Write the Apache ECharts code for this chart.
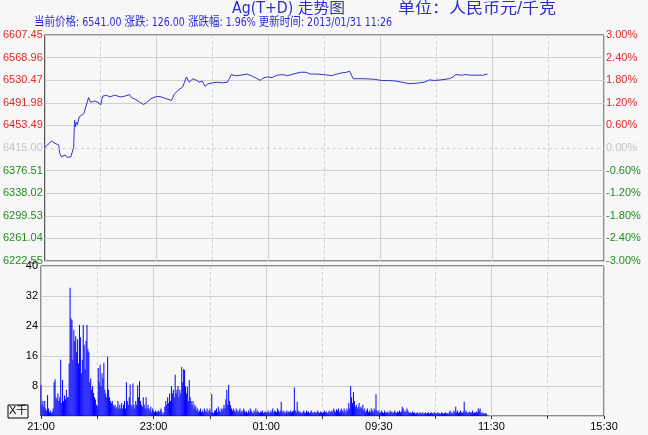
<!DOCTYPE html>
<html><head><meta charset="utf-8">
<script src="https://cdn.jsdelivr.net/npm/echarts@6/dist/echarts.min.js"></script>
<style>html,body{margin:0;padding:0;background:#f7f7f7}#c{width:648px;height:435px}</style>
</head><body><div id="c"></div>
<script>
const prevClose = 6415;
const pctLevels = [-3, -2.4, -1.8, -1.2, -0.6, 0, 0.6, 1.2, 1.8, 2.4, 3];
const timeLabels = ['21:00', '23:00', '01:00', '09:30', '11:30', '15:30'];
const titleText = 'Ag(T+D) 走势图';
const unitText = '单位：人民币元/千克';
const infoText = '当前价格: 6541.00 涨跌: 126.00 涨跌幅: 1.96% 更新时间: 2013/01/31 11:26';
const volumeLabel = 'X千';

const priceTimes = [0,3,7,9,11,15,16,18,20,22,
24,26,28,30,31,32,33,34,35,37,
39,42,44,47,49,51,54,58,60,62,
66,70,75,81,85,91,93,97,102,106,
109,114,120,125,130,136,139,143,148,152,
155,159,163,166,169,172,175,180,185,191,
196,198,200,205,210,217,223,228,231,234,
239,244,249,256,260,267,274,280,285,292,
299,304,308,311,313,319,324,327,329,331,
333,336,343,354,361,369,377,383,391,400,
407,413,418,425,434,438,441,447,452,457,
464,470,475];
const priceValues = [6416,6420,6427,6425,6423,6420,6406,6400,6398,6403,
6399,6401,6400,6401,6416,6462,6451,6459,6455,6468,
6465,6474,6476,6501,6493,6491,6495,6492,6488,6503,
6505,6502,6505,6502,6503,6506,6501,6498,6493,6489,
6492,6499,6503,6502,6499,6496,6507,6513,6519,6536,
6527,6533,6530,6527,6529,6520,6524,6526,6527,6526,
6527,6533,6540,6538,6539,6541,6537,6533,6530,6534,
6536,6535,6539,6540,6538,6541,6544,6544,6541,6541,
6540,6539,6538,6540,6541,6543,6544,6546,6547,6533,
6530,6533,6533,6532,6530,6530,6529,6527,6524.5,6525.5,
6527,6531,6530,6531,6533,6536,6540,6539,6540,6539,
6539,6539,6541];

const volumes = [
8.3,3,4,2.5,4,2,1.5,5.6,2,1,
1.5,0.8,1.2,2,9,9.8,5,4.5,6,4,
5,15,3.5,9.6,4,5.5,4.5,7,5,5,
14,34.2,26,25.6,15,23,20,21.3,17,20.5,
14,24.3,21,11.4,15,24.3,19,12.4,20,24.3,
17.8,17,9,10,7,8,6.2,5,4.4,3,
2.6,12.8,9,13.7,8,11.4,10,14.2,7,6,
5,15.8,7,5,4,3.5,4,3,2.5,3,
2,2.5,4,2,3,2,3.5,2,3,4,
2,9,4,3,5,8.4,3,2.5,8.7,3,
2,4,3,8.2,5,9.3,4,3,2.5,5,
3,2,5,2,3,2,1.5,2.5,1,2,
1.5,1,1.5,1,1.2,1.5,1,1.5,2,1,
0.5,1,2.5,4,3,5,3.5,6,4,8,
6,7,5,11,6,7,8,5,7,6,
13.1,9,12.5,12.3,8,6,7.8,4,9.6,5,
4,3,4,2,3,2.5,1.5,2,1,1.5,
2,1,1.5,1,2,1.5,1,2,1,1.5,
2,1,5.9,1,0.8,1.5,1.5,2,1,2.5,
1.5,1,2,1.5,2,3,2,4.5,7,3,
8.3,4,2.9,2,1.5,2,1.5,1,2,1.5,
1,1.5,2,1,1.5,1,2,1.5,1,1.2,
0.8,1.5,1,2,1.5,1,0.8,1.5,1,2,
1,1.5,1,0.8,1.2,1,1.5,0.8,1,1.2,
0.8,1,1.5,1,0.8,1.5,1,2,1,1.5,
1.2,1,2,1.5,1,1.5,3.8,1,1.5,1,
1.2,0.8,1.5,1,1.2,1,1.5,1,1.2,1.5,
7.6,1.5,1,3.8,1.5,1,1.2,1,0.8,1,
1.5,1,0.8,1.5,1,1.2,0.8,1,1.5,1,
0.8,1,1.2,0.8,1,1.5,1,0.8,1.2,1,
0.8,1,1.5,1,1.2,0.8,1,1.5,1,1.2,
1.5,1,2,1.5,1,1.8,1.5,2,1,1.5,
2,1.5,1,2,1.5,1,2,1.5,3.4,2,
8,5,3.5,6.4,4,2.5,3,2,2.5,3.5,
2,2.5,2,3,1.5,2,1,1.5,2,1,
1.5,1,2,1.5,1,2,1.5,5.8,1.5,1,
1.5,0.8,1,1.5,1,0.8,1.5,1,0.8,1.2,
1,0.8,1.5,1,1.2,0.8,1,1.5,1,0.8,
1.2,1,1.5,1,1.2,2.5,2,1,1.5,1,
2,1.5,1,0.8,1,0.8,1.2,0.8,1,0.6,
0.8,1,0.6,0.8,1,0.6,0.8,1,0.6,0.8,
1,0.6,0.8,1,0.6,0.8,1,0.8,0.6,1,
0.8,0.6,0.8,1,0.6,0.8,0.6,1,0.8,0.6,
0.8,1,0.6,0.8,0.6,1,1.5,0.8,1,0.6,
1.5,1,2.5,1,1.5,0.8,1,1.5,1,0.8,
1.2,3.8,1,1.5,1,0.8,1,1.2,0.8,1,
1.5,0.8,1,0.8,1.2,1,2,1.5,2,0.8,
1,0.6,0.8,0.6,0.8,0.5];

const RED = '#e02828', GREEN = '#228b22', GRAY = '#c4c4c4';
const GRID = '#cfcfcf';
const FONT = 'Arial, "Liberation Sans", "Noto Sans CJK SC", sans-serif';
const NARROW = '"Liberation Sans Narrow", "DejaVu Sans Condensed", Arial, "Noto Sans CJK SC", sans-serif';
const TEXTBLUE = '#2b2bd0';
const sessionLen = 600;

const priceData = priceTimes.map((t, i) => [t, priceValues[i]]);
const volData = volumes.map((v, i) => [i, v]);
const priceLevels = pctLevels.map(p => +(prevClose * (1 + p / 100)).toFixed(2));
const colorFor = v => Math.abs(v) < 1e-9 ? GRAY : (v > 0 ? RED : GREEN);
const splitColors = pctLevels.map(p => p === 0 ? 'rgba(0,0,0,0)' : GRID);

function fitText(text, font, left, top, targetW, color) {
  const w = echarts.format.getTextRect ? echarts.format.getTextRect(text, font).width : targetW;
  const sx = w > 0 ? targetW / w : 1;
  return {type: 'text', x: left, y: top, scaleX: sx, style: {text: text, fill: color, font: font}};
}

const chart = echarts.init(document.getElementById('c'));
const baseX = {
  type: 'value', min: 0, max: sessionLen, interval: 60,
  axisLine: {show: false}, axisTick: {show: false}, axisLabel: {show: false},
  splitLine: {show: true, lineStyle: {color: GRID, type: [3, 3], width: 1}}
};
const solidX = {
  type: 'value', min: 0, max: sessionLen, interval: 120, position: 'top',
  axisLine: {show: false}, axisTick: {show: false}, axisLabel: {show: false},
  splitLine: {show: true, lineStyle: {color: GRID, type: 'solid', width: 1}}
};
chart.setOption({
  backgroundColor: '#f7f7f7',
  animation: false,
  textStyle: {fontFamily: FONT},
  graphic: [
    fitText(titleText, '15px ' + NARROW, 232, 2, 113, TEXTBLUE),
    fitText(unitText, '15px ' + NARROW, 398, 2, 158, TEXTBLUE),
    fitText(infoText, '12.5px ' + NARROW, 34, 16, 358, TEXTBLUE),
    {type: 'rect', shape: {x: 8, y: 405, width: 20, height: 13}, style: {fill: 'none', stroke: '#000', lineWidth: 1}},
    {type: 'text', left: 9, top: 405, style: {text: volumeLabel, fill: '#000', font: '11px ' + FONT}}
  ],
  grid: [
    {left: 41, right: 44, top: 35, height: 226, show: true, borderColor: '#222', borderWidth: 1, backgroundColor: 'transparent'},
    {left: 41, right: 44, top: 266, height: 150, show: true, borderColor: '#222', borderWidth: 1, backgroundColor: 'transparent'}
  ],
  xAxis: [
    Object.assign({gridIndex: 0}, baseX),
    Object.assign({gridIndex: 0}, solidX),
    Object.assign({}, baseX, {
      gridIndex: 1,
      axisTick: {show: true, length: 3, lineStyle: {color: '#333'}},
      axisLabel: {show: true, color: '#000', fontSize: 11, margin: 5,
        formatter: v => (v % 120 === 0) ? timeLabels[v / 120] : ''}
    }),
    Object.assign({gridIndex: 1}, solidX)
  ],
  yAxis: [
    {type: 'value', gridIndex: 0, min: priceLevels[0], max: priceLevels[priceLevels.length - 1],
      axisLine: {show: false}, axisTick: {show: false}, splitLine: {show: false},
      axisLabel: {show: true, customValues: priceLevels, margin: 2, fontSize: 11,
        formatter: v => v.toFixed(2), color: v => colorFor(v - prevClose)}},
    {type: 'value', gridIndex: 0, position: 'right', min: -3, max: 3, interval: 0.6,
      axisLine: {show: false}, axisTick: {show: false},
      splitLine: {show: true, showMinLine: true, showMaxLine: true, lineStyle: {color: splitColors, width: 1}},
      axisLabel: {show: true, margin: 2, fontSize: 11,
        formatter: v => v.toFixed(2) + '%', color: v => colorFor(v)}},
    {type: 'value', gridIndex: 1, min: 0, max: 40, interval: 8,
      axisLine: {show: false}, axisTick: {show: false},
      splitLine: {show: true, lineStyle: {color: GRID, width: 1}},
      axisLabel: {show: true, margin: 3, fontSize: 11, color: '#000',
        formatter: v => v === 0 ? '' : String(v)}}
  ],
  series: [
    {type: 'line', xAxisIndex: 0, yAxisIndex: 0, data: priceData, showSymbol: false, symbol: 'none',
      lineStyle: {color: '#3232c8', width: 1}, silent: true,
      markLine: {silent: true, symbol: 'none', label: {show: false},
        lineStyle: {color: GRID, type: [3, 3], width: 1}, data: [{yAxis: prevClose}]}},
    {type: 'bar', xAxisIndex: 2, yAxisIndex: 2, data: volData, barWidth: 1,
      itemStyle: {color: '#0000ff'}, silent: true}
  ]
});
</script></body></html>
